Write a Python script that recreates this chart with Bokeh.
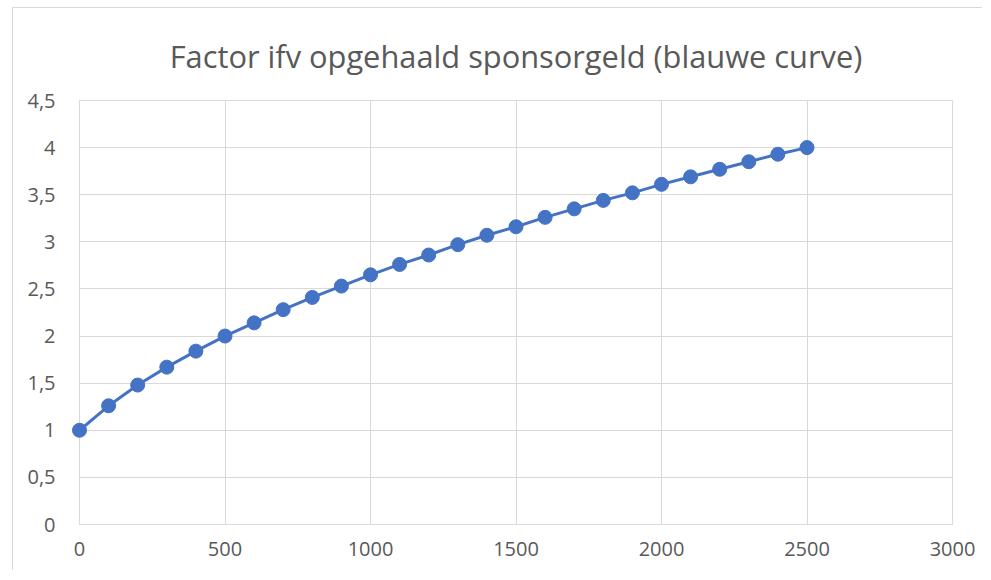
from bokeh.plotting import figure
from bokeh.models import FixedTicker, Range1d, Title
from bokeh.embed import file_html
from bokeh.resources import INLINE

sponsorgeld = [0, 100, 200, 300, 400, 500, 600, 700, 800, 900, 1000, 1100, 1200,
               1300, 1400, 1500, 1600, 1700, 1800, 1900, 2000, 2100, 2200, 2300,
               2400, 2500]
factor = [1.0, 1.26, 1.48, 1.67, 1.84, 2.0, 2.14, 2.28, 2.41, 2.53, 2.65, 2.76, 2.86,
          2.97, 3.07, 3.16, 3.26, 3.35, 3.44, 3.52, 3.61, 3.69, 3.77, 3.85, 3.93, 4.0]

x_ticks = [0, 500, 1000, 1500, 2000, 2500, 3000]
y_ticks = [0, 0.5, 1, 1.5, 2, 2.5, 3, 3.5, 4, 4.5]
y_labels = ["0", "0,5", "1", "1,5", "2", "2,5", "3", "3,5", "4", "4,5"]

title_text = "Factor ifv opgehaald sponsorgeld (blauwe curve)"

GRID = "#d9d9d9"
TEXT = "#595959"
BLUE = "#4472C4"
FONT = "Open Sans"

p = figure(width=970, height=563, output_backend="svg", toolbar_location=None,
           x_range=Range1d(0, 3000), y_range=Range1d(0, 4.5),
           min_border_left=66, min_border_right=31, min_border_top=92,
           min_border_bottom=47)
p.styles = {"margin-left": "12px", "margin-top": "7px",
            "border-left": f"1px solid {GRID}", "border-top": f"1px solid {GRID}"}
p.outline_line_color = GRID
p.title = None
t = Title(text=title_text, align="center", text_font=FONT, text_font_size="30.8px",
          text_color=TEXT, text_font_style="normal", offset=-7)
p.add_layout(t, "above")
t.standoff = 48

for ax in (p.xaxis[0], p.yaxis[0]):
    ax.axis_line_color = GRID
    ax.major_tick_line_color = None
    ax.minor_tick_line_color = None
    ax.major_label_text_color = TEXT
    ax.major_label_text_font = FONT
    ax.major_label_text_font_size = "20px"
p.xaxis[0].ticker = FixedTicker(ticks=x_ticks)
p.yaxis[0].ticker = FixedTicker(ticks=y_ticks)
p.yaxis[0].major_label_overrides = {float(k): v for k, v in zip(y_ticks, y_labels)}
p.xaxis[0].major_label_standoff = 11
p.yaxis[0].major_label_standoff = 18

p.xgrid.ticker = FixedTicker(ticks=x_ticks)
p.ygrid.ticker = FixedTicker(ticks=y_ticks)
p.xgrid.grid_line_color = GRID
p.ygrid.grid_line_color = GRID

p.line(sponsorgeld, factor, line_color=BLUE, line_width=3)
p.scatter(sponsorgeld, factor, size=14, fill_color=BLUE, line_color=BLUE, level="overlay")

open("out.html", "w").write(file_html(p, INLINE))
